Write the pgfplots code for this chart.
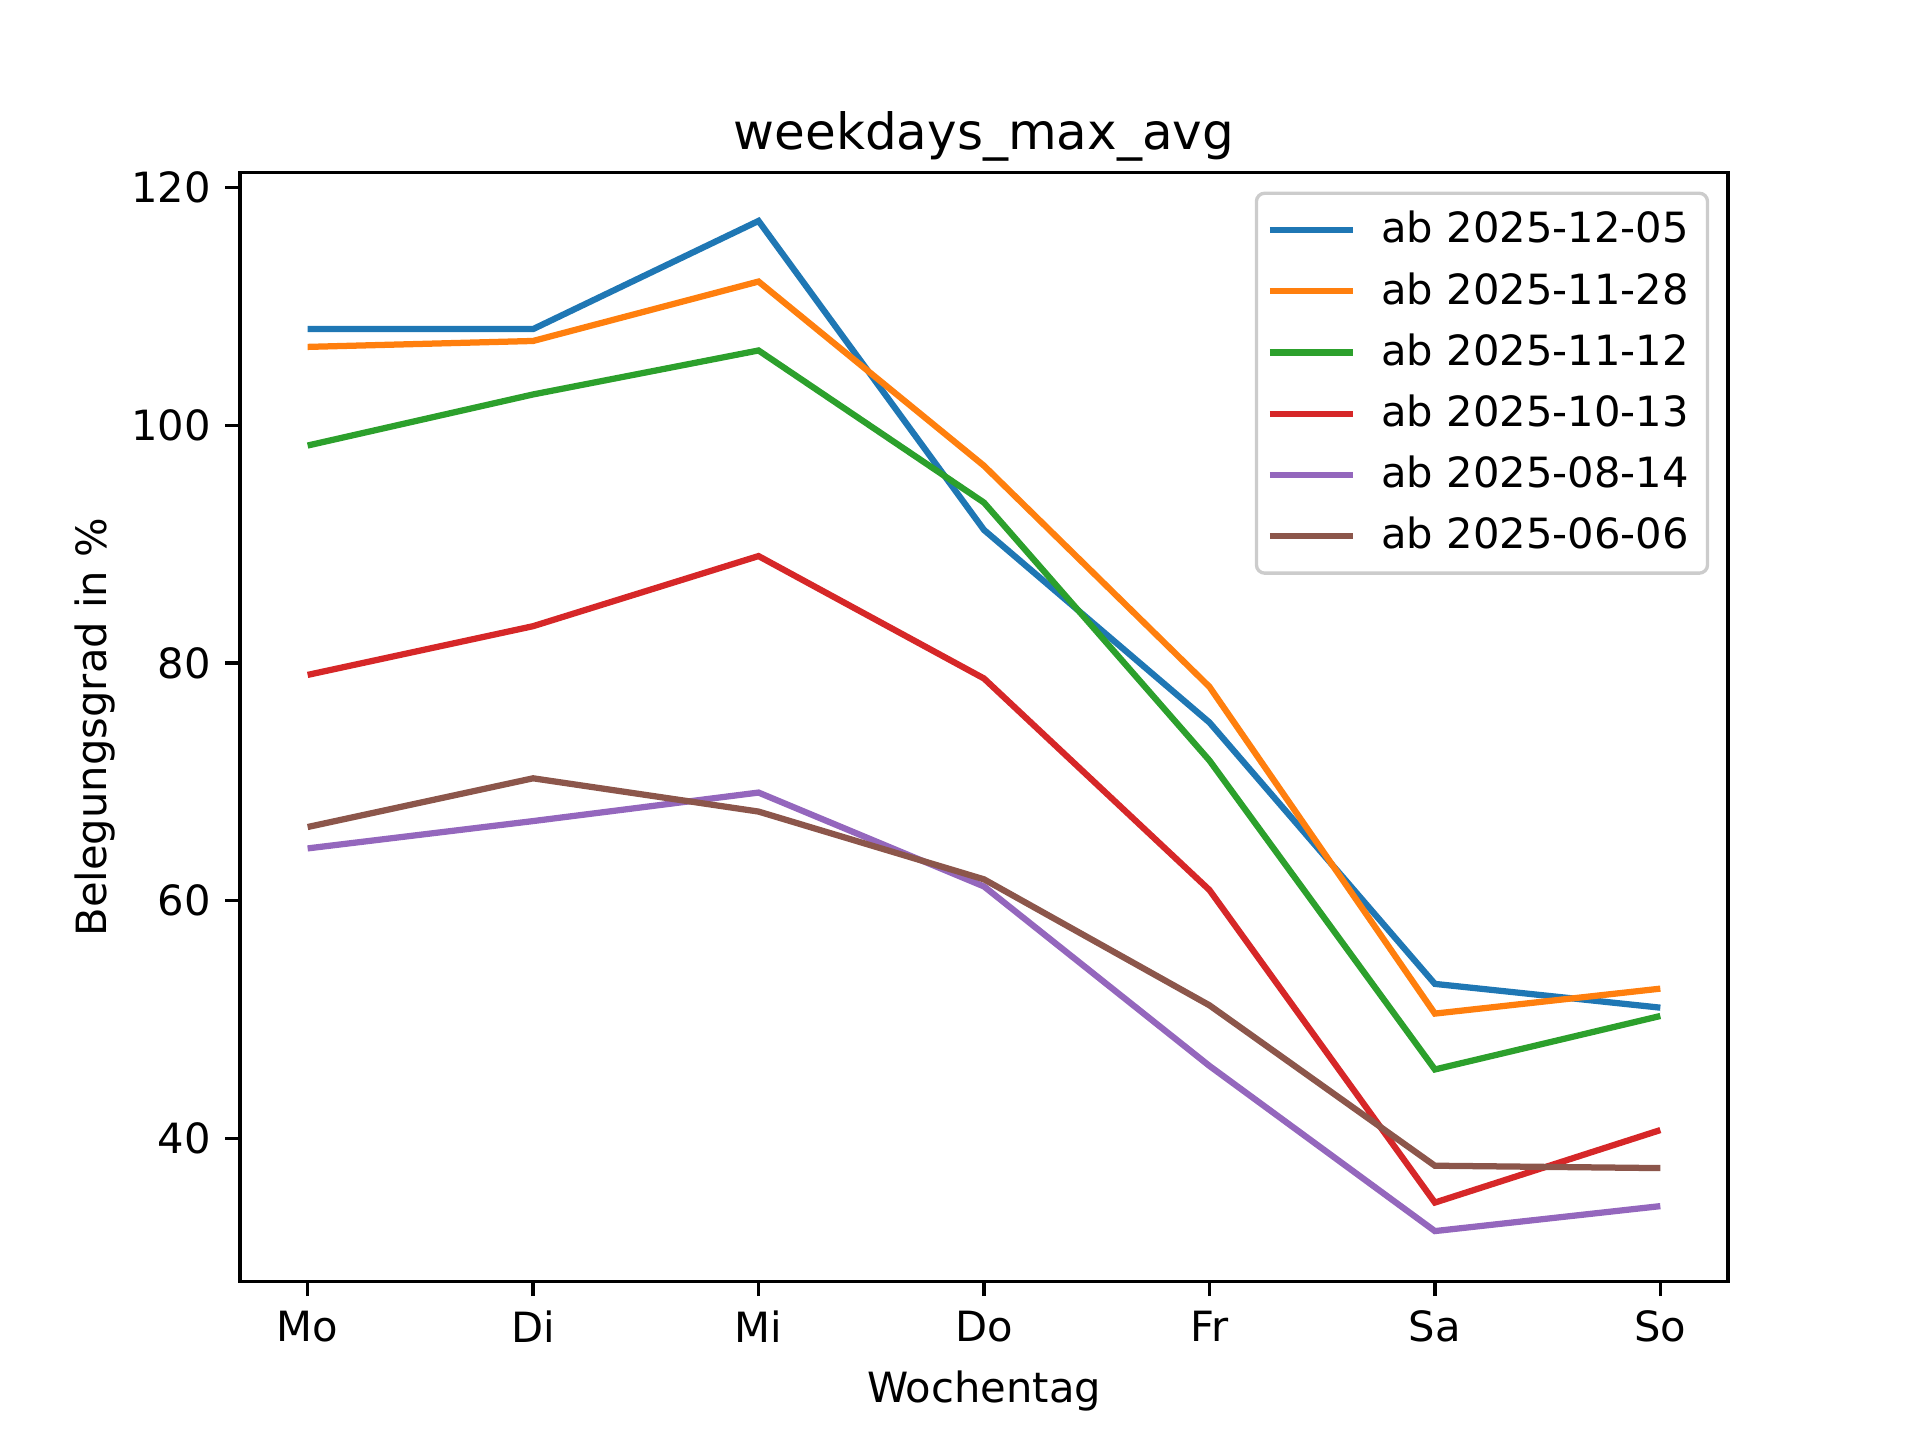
\documentclass[border=0pt]{standalone}
\usepackage{fontspec}
\setmainfont{DejaVu Sans}
\usepackage{pgfplots}
\pgfplotsset{compat=1.18}

\definecolor{c1}{HTML}{1F77B4}
\definecolor{c2}{HTML}{FF7F0E}
\definecolor{c3}{HTML}{2CA02C}
\definecolor{c4}{HTML}{D62728}
\definecolor{c5}{HTML}{9467BD}
\definecolor{c6}{HTML}{8C564B}

\begin{document}
\begin{tikzpicture}
\useasboundingbox (0,0) rectangle (460.8pt,345.6pt);
\begin{axis}[
    at={(57.6pt,38.016pt)}, anchor=south west,
    scale only axis,
    width=357.12pt, height=266.11pt,
    font=\fontsize{10}{12}\selectfont,
    /pgf/number format/assume math mode=true,
    title={\fontsize{12}{14}\selectfont weekdays\_max\_avg},
    title style={yshift=-6.7pt},
    xlabel={Wochentag},
    ylabel={Belegungsgrad in \%},
    ylabel shift=-3pt,
    xmin=-0.3, xmax=6.3,
    ymin=27.95, ymax=121.25,
    xtick={0,1,2,3,4,5,6},
    xticklabels={Mo,Di,Mi,Do,Fr,Sa,So},
    ytick={40,60,80,100,120},
    tick align=outside,
    major tick length=3.5pt,
    every tick/.style={black, line width=0.8pt},
    axis line style={line width=0.8pt},
    xtick pos=bottom, ytick pos=left,
    every axis plot/.append style={line width=1.5pt},
    legend cell align=left,
    legend style={
        at={(1,1)}, anchor=north east, xshift=-4.5pt, yshift=-4.5pt,
        draw=black!20, rounded corners=2pt, line width=0.8pt,
        font=\fontsize{10}{12}\selectfont,
        row sep=1.6pt, inner xsep=2.5pt, inner ysep=2.3pt,
        /tikz/every odd column/.append style={column sep=4pt},
    },
    legend image code/.code={\draw[#1] (0pt,0pt) -- (20pt,0pt);},
]
\addplot[c1] coordinates {(0,108.1) (1,108.1) (2,117.2) (3,91.2) (4,75.0) (5,53.0) (6,51.0)};
\addplot[c2] coordinates {(0,106.6) (1,107.1) (2,112.1) (3,96.6) (4,78.0) (5,50.5) (6,52.6)};
\addplot[c3] coordinates {(0,98.3) (1,102.6) (2,106.3) (3,93.5) (4,71.8) (5,45.8) (6,50.3)};
\addplot[c4] coordinates {(0,79.0) (1,83.1) (2,89.0) (3,78.7) (4,60.9) (5,34.6) (6,40.7)};
\addplot[c5] coordinates {(0,64.4) (1,66.7) (2,69.1) (3,61.2) (4,46.1) (5,32.2) (6,34.3)};
\addplot[c6] coordinates {(0,66.2) (1,70.3) (2,67.5) (3,61.8) (4,51.2) (5,37.7) (6,37.5)};
\legend{ab 2025-12-05, ab 2025-11-28, ab 2025-11-12, ab 2025-10-13, ab 2025-08-14, ab 2025-06-06}
\end{axis}
\end{tikzpicture}
\end{document}
